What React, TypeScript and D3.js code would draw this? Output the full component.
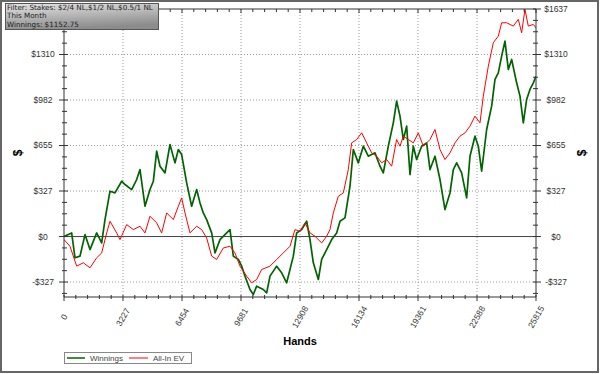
import React from "react";
import * as d3 from "d3";

const xTickValues = [0, 3227, 6454, 9681, 12908, 16134, 19361, 22588, 25815];
const xTickLabels = ["0", "3227", "6454", "9681", "12908", "16134", "19361", "22588", "25815"];
const yTickValues = [-327.4, 0, 327.4, 654.8, 982.2, 1309.6, 1637];
const yTickLabels = ["-$327", "$0", "$327", "$655", "$982", "$1310", "$1637"];

const winHands = [0, 419, 601, 875, 1148, 1422, 1787, 2060, 2242, 2516, 2789, 3154, 3336, 3700, 3974, 4156, 4430, 4703, 4886, 5068, 5250, 5524, 5797, 6071, 6253, 6435, 6709, 6982, 7256, 7438, 7620, 7802, 8076, 8258, 8532, 8897, 9079, 9261, 9534, 9717, 9899, 10172, 10355, 10537, 10902, 11084, 11266, 11631, 11904, 12178, 12542, 12725, 12998, 13272, 13454, 13636, 13910, 14092, 14365, 14639, 14912, 15095, 15368, 15642, 15824, 16097, 16371, 16644, 17009, 17282, 17464, 17738, 18011, 18193, 18376, 18558, 18741, 18923, 19105, 19287, 19561, 19834, 20017, 20290, 20564, 20837, 21110, 21292, 21475, 21748, 22022, 22204, 22477, 22660, 22842, 23116, 23389, 23571, 23753, 23936, 24118, 24301, 24483, 24756, 24939, 25121, 25303, 25485, 25668, 25815];
const winValues = [0, 26, -153, -141, 14, -94, 26, -46, 122, 326, 314, 398, 374, 338, 410, 482, 218, 338, 398, 614, 506, 458, 662, 530, 626, 590, 386, 218, 338, 242, 170, 122, 26, -118, -22, 26, 50, -141, -165, -213, -285, -381, -417, -357, -381, -405, -285, -213, -261, -333, -141, 26, 50, 110, -22, -189, -309, -165, -94, -22, 26, 110, 134, 362, 626, 530, 650, 578, 602, 506, 458, 650, 818, 974, 866, 698, 794, 446, 650, 554, 650, 674, 482, 578, 410, 194, 314, 482, 530, 458, 278, 578, 722, 650, 470, 770, 938, 1130, 1178, 1298, 1406, 1202, 1274, 1106, 1010, 818, 986, 1058, 1106, 1152.75];

const evHands = [0, 328, 693, 1057, 1422, 1787, 2060, 2334, 2516, 2880, 3063, 3427, 3792, 4156, 4430, 4703, 5068, 5341, 5615, 5980, 6253, 6435, 6617, 6891, 7256, 7529, 7802, 8076, 8349, 8714, 9079, 9352, 9625, 9990, 10263, 10537, 10810, 11266, 11631, 11995, 12360, 12633, 12907, 13180, 13454, 13727, 14092, 14365, 14547, 14730, 15003, 15277, 15550, 15733, 16006, 16280, 16553, 16826, 17100, 17373, 17647, 17920, 18193, 18376, 18558, 18832, 19105, 19378, 19652, 20017, 20290, 20564, 20837, 21110, 21384, 21657, 21931, 22204, 22477, 22751, 22933, 23207, 23480, 23753, 23936, 24209, 24574, 24848, 25030, 25212, 25394, 25668, 25815];
const evValues = [-22, -70, -213, -189, -225, -153, -118, 26, 110, 26, -22, 86, 50, 74, 26, 146, 98, 26, 170, 122, 218, 278, 170, 26, 74, 50, -10, -141, -165, -82, -70, -118, -213, -285, -333, -309, -237, -213, -165, -118, -70, 50, 38, 98, 26, 2, -46, 2, 50, 170, 290, 314, 482, 674, 698, 746, 674, 602, 578, 530, 554, 506, 698, 650, 722, 698, 674, 746, 650, 698, 770, 626, 554, 602, 674, 722, 746, 794, 866, 818, 1010, 1226, 1394, 1442, 1538, 1538, 1514, 1562, 1466, 1634, 1514, 1526, 1502];

const filterLines = ["Filter: Stakes: $2/4 NL,$1/2 NL,$0.5/1 NL", "This Month", "Winnings: $1152.75"];
const legendNames = ["Winnings", "All-In EV"];
const seriesColors = ["#006400", "#ff0000"];

const W = 600, H = 374;
const L = 64, R = 536, T = 9, B = 297;

export default function App() {
  const x = d3.scaleLinear().domain([0, 25815]).range([L, R]);
  const y = d3.scaleLinear().domain([-435, 1637]).range([B, T]);
  const line = d3.line<[number, number]>().x(d => x(d[0])).y(d => y(d[1]));
  const winData = winHands.map((h, i) => [h, winValues[i]] as [number, number]);
  const evData = evHands.map((h, i) => [h, evValues[i]] as [number, number]);
  const yMinor = d3.range(-5, 21).map(i => (i * 327.4) / 4).filter(v => v >= -435 && v <= 1637);
  const xMinor = d3.range(0, 41).map(i => (i * 25815) / 40);
  const font = "'Liberation Sans', Arial, sans-serif";
  const tickColor = "#333";
  return (
    <svg width={W} height={H} style={{ position: "fixed", left: 0, top: 0, background: "#fff" }}>
      <defs>
        <linearGradient id="boxg" x1="0" y1="0" x2="0.3" y2="1">
          <stop offset="0" stopColor="#e4e4e4" />
          <stop offset="1" stopColor="#8c8c8c" />
        </linearGradient>
        <clipPath id="plotclip">
          <rect x={L} y={T - 2} width={R - L} height={B - T + 4} />
        </clipPath>
      </defs>
      <rect x={0} y={0} width={W} height={H} fill="#fff" />
      {xTickValues.slice(1, -1).map((v, i) => (
        <line key={"gx" + i} x1={x(v)} x2={x(v)} y1={T} y2={B} stroke="#999" strokeDasharray="1,2" />
      ))}
      {yTickValues.filter(v => v !== 0 && v !== 1637).map((v, i) => (
        <line key={"gy" + i} x1={L} x2={R} y1={y(v)} y2={y(v)} stroke="#999" strokeDasharray="1,2" />
      ))}
      <line x1={L} x2={R} y1={y(0)} y2={y(0)} stroke="#444" strokeWidth={1} />
      <g clipPath="url(#plotclip)">
        <path d={line(winData) || ""} fill="none" stroke={seriesColors[0]} strokeWidth={1.7} strokeLinejoin="round" />
        <path d={line(evData) || ""} fill="none" stroke={seriesColors[1]} strokeWidth={1} strokeLinejoin="round" />
      </g>
      <line x1={L} x2={L} y1={T} y2={B} stroke={tickColor} />
      <line x1={R} x2={R} y1={T} y2={B} stroke={tickColor} />
      <line x1={L} x2={R} y1={B} y2={B} stroke={tickColor} />
      <line x1={L} x2={R} y1={T} y2={T} stroke={tickColor} />
      {yMinor.map((v, i) => {
        const major = yTickValues.some(t => Math.abs(t - v) < 0.5);
        return (
          <g key={"yt" + i}>
            <line x1={major ? L - 5 : L - 2} x2={major ? L + 4 : L + 3} y1={y(v)} y2={y(v)} stroke={tickColor} />
            <line x1={R - 3} x2={major ? R + 5 : R + 2} y1={y(v)} y2={y(v)} stroke={tickColor} />
          </g>
        );
      })}
      {xMinor.map((v, i) => {
        const major = i % 5 === 0;
        return (
          <g key={"xt" + i}>
            <line x1={x(v)} x2={x(v)} y1={B - 2} y2={B + (major ? 4 : 2)} stroke={tickColor} />
            <line x1={x(v)} x2={x(v)} y1={T} y2={T + (major ? 4 : 3)} stroke={tickColor} />
          </g>
        );
      })}
      {yTickValues.map((v, i) => (
        <g key={"yl" + i} fontFamily={font} fontSize={8.5} fill="#333" textAnchor="middle">
          {v !== 1637 && <text x={43} y={y(v)} dy="0.35em">{yTickLabels[i]}</text>}
          <text x={556} y={y(v)} dy="0.35em">{yTickLabels[i]}</text>
        </g>
      ))}
      {xTickValues.map((v, i) => (
        <text key={"xl" + i} transform={`translate(${x(v)},317) rotate(-60)`} textAnchor="middle" dy="0.35em"
          fontFamily={font} fontSize={8.5} fill="#333">{xTickLabels[i]}</text>
      ))}
      <text x={300} y={345} textAnchor="middle" fontFamily={font} fontWeight="bold" fontSize={11} fill="#000">Hands</text>
      <text transform="translate(18,153) rotate(-90)" textAnchor="middle" dy="0.35em" fontFamily={font} fontWeight="bold" fontSize={12} fill="#000">$</text>
      <text transform="translate(582,153) rotate(-90)" textAnchor="middle" dy="0.35em" fontFamily={font} fontWeight="bold" fontSize={12} fill="#000">$</text>
      <rect x={64.5} y={352.5} width={127} height={11} fill="#fff" stroke="#888" />
      <line x1={67} x2={85} y1={358} y2={358} stroke={seriesColors[0]} strokeWidth={1.5} />
      <text x={90} y={358} dy="0.35em" fontFamily={font} fontSize={8} fill="#444">{legendNames[0]}</text>
      <line x1={129} x2={148} y1={358} y2={358} stroke={seriesColors[1]} strokeWidth={1} />
      <text x={153} y={358} dy="0.35em" fontFamily={font} fontSize={8} fill="#444">{legendNames[1]}</text>
      <rect x={5.5} y={3.5} width={153} height={26} fill="url(#boxg)" stroke="#555" />
      {filterLines.map((t, i) => (
        <text key={"fl" + i} x={7} y={9.8 + i * 8.5} fontFamily="'DejaVu Sans', Verdana, sans-serif" fontSize={7.2} fill="#222">{t}</text>
      ))}
      <rect x={1} y={1} width={597} height={371} fill="none" stroke="#666" strokeWidth={2} />
    </svg>
  );
}
